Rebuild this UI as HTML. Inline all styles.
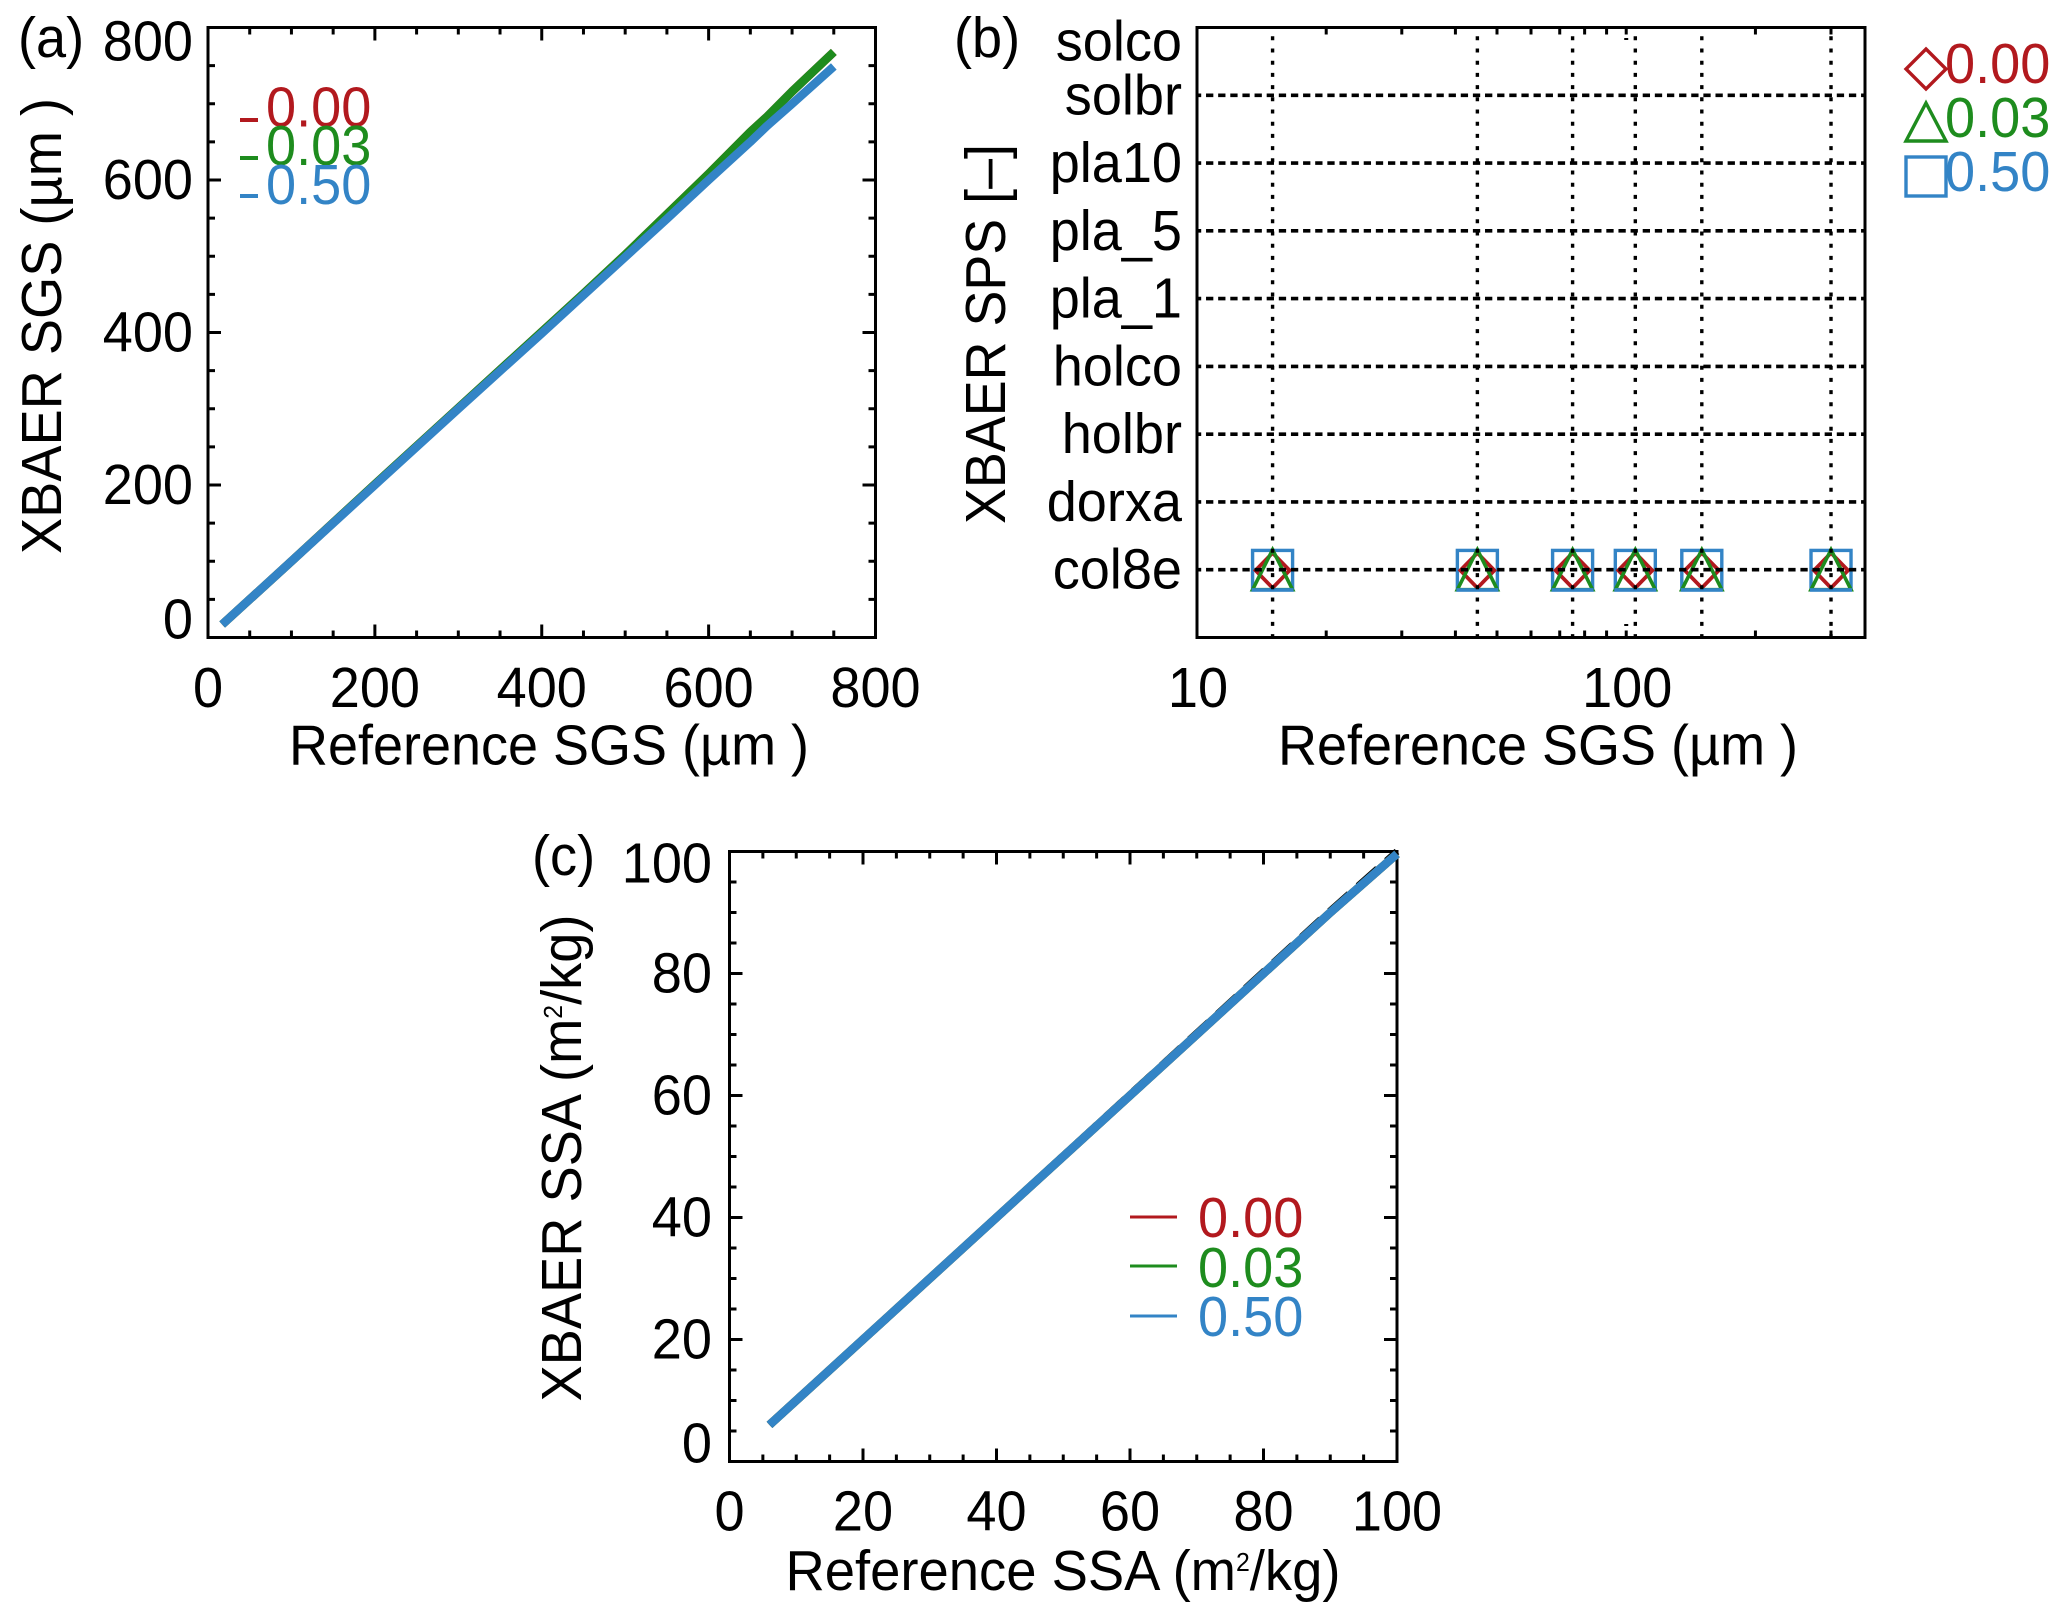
<!DOCTYPE html>
<html lang="en">
<head>
<meta charset="utf-8">
<title>XBAER retrieval comparison</title>
<style>
html,body{margin:0;padding:0;background:#fff;}
svg{display:block;}
text{font-family:"Liberation Sans",Arial,sans-serif;font-size:52px;fill:#000;}
</style>
</head>
<body>
<svg id="chart" xmlns="http://www.w3.org/2000/svg" width="2067" height="1621" viewBox="0 0 2067 1621">
  <rect x="0" y="0" width="2067" height="1621" fill="#fff"/>

  <g id="panel-a">
    <text x="18" y="57">(a)</text>
    <text x="549" y="764.5" text-anchor="middle" textLength="520" lengthAdjust="spacingAndGlyphs">Reference SGS (µm )</text>
    <text transform="translate(61,326) rotate(-90)" text-anchor="middle" textLength="456" lengthAdjust="spacingAndGlyphs">XBAER SGS (µm )</text>
    <g>
      <line x1="240" x2="258" y1="120" y2="120" stroke="#B2191E" stroke-width="4"/>
      <text x="266" y="126.5" style="fill:#B2191E">0.00</text>
      <line x1="240" x2="258" y1="158" y2="158" stroke="#1E8C1E" stroke-width="4"/>
      <text x="266" y="165" style="fill:#1E8C1E">0.03</text>
      <line x1="240" x2="258" y1="196" y2="196" stroke="#3384C6" stroke-width="4"/>
      <text x="266" y="204" style="fill:#3384C6">0.50</text>
    </g>
  </g>

  <g id="panel-b">
    <text x="954" y="57">(b)</text>
    <text x="1538" y="764.5" text-anchor="middle" textLength="520" lengthAdjust="spacingAndGlyphs">Reference SGS (µm )</text>
    <text transform="translate(1005,334) rotate(-90)" text-anchor="middle" textLength="380" lengthAdjust="spacingAndGlyphs">XBAER SPS [–]</text>
    <g>
      <path d="M1926 49 L1946 69 L1926 89 L1906 69 Z" fill="none" stroke="#B2191E" stroke-width="3.4"/>
      <text x="1945" y="83" style="fill:#B2191E">0.00</text>
      <path d="M1926 103 L1946 141 L1906 141 Z" fill="none" stroke="#1E8C1E" stroke-width="3.4"/>
      <text x="1945" y="137" style="fill:#1E8C1E">0.03</text>
      <rect x="1906" y="157" width="40" height="39" fill="none" stroke="#3384C6" stroke-width="3.4"/>
      <text x="1945" y="191" style="fill:#3384C6">0.50</text>
    </g>
  </g>

  <g id="panel-c">
    <text x="532" y="875">(c)</text>
    <text x="1063" y="1590" text-anchor="middle" textLength="555" lengthAdjust="spacingAndGlyphs">Reference SSA (m<tspan dy="-19" style="font-size:26px">2</tspan><tspan dy="19">/kg)</tspan></text>
    <text transform="translate(581,1158) rotate(-90)" text-anchor="middle" textLength="487" lengthAdjust="spacingAndGlyphs">XBAER SSA  (m<tspan dy="-19" style="font-size:26px">2</tspan><tspan dy="19">/kg)</tspan></text>
    <g>
      <line x1="1130" x2="1177" y1="1217" y2="1217" stroke="#B2191E" stroke-width="3"/>
      <text x="1198" y="1237" style="fill:#B2191E">0.00</text>
      <line x1="1130" x2="1177" y1="1266" y2="1266" stroke="#1E8C1E" stroke-width="3"/>
      <text x="1198" y="1287" style="fill:#1E8C1E">0.03</text>
      <line x1="1130" x2="1177" y1="1316" y2="1316" stroke="#3384C6" stroke-width="3"/>
      <text x="1198" y="1336" style="fill:#3384C6">0.50</text>
    </g>
  </g>
</svg>

<script>
// ---------- Panel (a) data ----------
const aTicks = [0, 200, 400, 600, 800];
const aMinorTicks = [50, 100, 150, 250, 300, 350, 450, 500, 550, 650, 700, 750];
const aRefX = [17, 100, 200, 300, 400, 450, 500, 550, 600, 650, 670, 700, 750];
const aSeries000 = [17, 100, 201, 301, 401, 451, 502, 555, 608, 663, 683, 716, 768];
const aSeries003 = [17, 100, 201, 301, 401, 451, 502, 555, 608, 663, 683, 716, 768];
const aSeries050 = [17, 100, 200, 300, 399, 449, 499, 549, 600, 650, 671, 700, 749];
const aBlackX = [17, 100, 200, 300, 400, 450];
const aBlackY = [17, 100, 199.4, 299.3, 398.8, 448.8];

// ---------- Panel (b) data ----------
const bMinorTicks = [20, 30, 40, 50, 60, 70, 80, 90, 100, 200, 300];
const bXLabels = [10, 100];
const bCategories = ["", "col8e", "dorxa", "holbr", "holco", "pla_1", "pla_5", "pla10", "solbr", "solco"];
const bRefSizes = [15, 45, 75, 105, 150, 300];
const bCat000 = ["col8e", "col8e", "col8e", "col8e", "col8e", "col8e"];
const bCat003 = ["col8e", "col8e", "col8e", "col8e", "col8e", "col8e"];
const bCat050 = ["col8e", "col8e", "col8e", "col8e", "col8e", "col8e"];

// ---------- Panel (c) data ----------
const cTicks = [0, 20, 40, 60, 80, 100];
const cMinorTicks = [5, 10, 15, 25, 30, 35, 45, 50, 55, 65, 70, 75, 85, 90, 95];
const cRefX = [6, 20, 40, 60, 70, 80, 90, 100];
const cSeries000 = [6, 20, 40, 60, 70, 80, 90, 99.6];
const cSeries003 = [6, 20, 40, 60, 70, 80, 90, 99.6];
const cSeries050 = [6, 20, 40, 60, 70, 80, 90, 99.6];
const cBlackY = [6, 20, 40.1, 60.2, 70.25, 80.3, 90.3, 100];

const RED = "#B2191E", GREEN = "#1E8C1E", BLUE = "#3384C6";
const NS = "http://www.w3.org/2000/svg";
const root = document.getElementById("chart");

function make(tag, parent, attrs) {
  const e = document.createElementNS(NS, tag);
  for (const k in attrs) e.setAttribute(k, attrs[k]);
  parent.appendChild(e);
  return e;
}
function clamp(v, a, b) { return Math.max(a, Math.min(b, v)); }

function linear(d0, d1, r0, r1) { return v => r0 + (v - d0) / (d1 - d0) * (r1 - r0); }
function logScale(d0, d1, r0, r1) { return v => r0 + (Math.log10(v) - Math.log10(d0)) / (Math.log10(d1) - Math.log10(d0)) * (r1 - r0); }

function drawFrame(parent, box, name) {
  const r = make("rect", parent, { x: box.l, y: box.t, width: box.r - box.l, height: box.b - box.t, fill: "none", stroke: "#000", "stroke-width": 3 });
  
  
}

function tickX(parent, box, x, len, name) {
  const a = make("line", parent, { x1: x, x2: x, y1: box.b, y2: box.b - len, stroke: "#000", "stroke-width": 3 });
  
  
  const b = make("line", parent, { x1: x, x2: x, y1: box.t, y2: box.t + len, stroke: "#000", "stroke-width": 3 });
  
  
}
function tickY(parent, box, y, len, name) {
  const a = make("line", parent, { x1: box.l, x2: box.l + len, y1: y, y2: y, stroke: "#000", "stroke-width": 3 });
  
  
  const b = make("line", parent, { x1: box.r, x2: box.r - len, y1: y, y2: y, stroke: "#000", "stroke-width": 3 });
  
  
}

function drawLinearAxes(parent, box, sx, sy, majors, minors, name, opts) {
  drawFrame(parent, box, name);
  minors.forEach(v => { tickX(parent, box, sx(v), 7, name); tickY(parent, box, sy(v), 7, name); });
  majors.forEach(v => {
    tickX(parent, box, sx(v), 13, name);
    tickY(parent, box, sy(v), 13, name);
    const tx = make("text", parent, { x: sx(v), y: opts.xBase, "text-anchor": "middle" });
    
    
    tx.textContent = v;
    const ty = make("text", parent, { x: opts.yRight, y: clamp(sy(v) + 19, box.t + opts.topPad, box.b + 1), "text-anchor": "end" });
    
    
    ty.textContent = v;
  });
}

function drawLine(parent, xs, ys, sx, sy, color, width, name, dash) {
  const pts = xs.map((x, i) => sx(x).toFixed(1) + "," + sy(ys[i]).toFixed(1)).join(" ");
  const p = make("polyline", parent, { points: pts, fill: "none", stroke: color, "stroke-width": width, "stroke-linejoin": "round" });
  if (dash) p.setAttribute("stroke-dasharray", dash);
  
  
}

// ---------- Panel (a) ----------
const pa = document.getElementById("panel-a");
const boxA = { l: 208, r: 875.5, t: 27.5, b: 637.5 };
const ax = linear(0, 800, boxA.l, boxA.r), ay = linear(0, 800, boxA.b, boxA.t);
drawLinearAxes(pa, boxA, ax, ay, aTicks, aMinorTicks, "panel-a", { xBase: 707, yRight: 193, topPad: 33 });
drawLine(pa, aBlackX, aBlackY, ax, ay, "#000", 7, "panel-a-reference-line");
drawLine(pa, aRefX, aSeries000, ax, ay, RED, 8.5, "panel-a-line-0-00");
drawLine(pa, aRefX, aSeries003, ax, ay, GREEN, 8.5, "panel-a-line-0-03");
drawLine(pa, aRefX, aSeries050, ax, ay, BLUE, 8.5, "panel-a-line-0-50");

// ---------- Panel (b) ----------
const pb = document.getElementById("panel-b");
const boxB = { l: 1197, r: 1865, t: 27.5, b: 637.5 };
const bx = logScale(10, 360, boxB.l, boxB.r);
const by = name => boxB.b - bCategories.indexOf(name) * (boxB.b - boxB.t) / (bCategories.length - 1);

// markers sit below the grid, as in the reference
bRefSizes.forEach((v, i) => {
  const x = bx(v);
  const s = make("rect", pb, { x: x - 20, y: by(bCat050[i]) - 19.3, width: 40, height: 39.5, fill: "none", stroke: BLUE, "stroke-width": 3.4 });
  
  
  const yD = by(bCat000[i]) + 0.7;
  const d = make("path", pb, { d: `M${x} ${yD - 17.5} L${x + 17} ${yD} L${x} ${yD + 17.5} L${x - 17} ${yD} Z`, fill: "none", stroke: RED, "stroke-width": 3.8 });
  
  
  const yT = by(bCat003[i]);
  const g = make("path", pb, { d: `M${x} ${yT - 20} L${x + 20} ${yT + 20} L${x - 20} ${yT + 20} Z`, fill: "none", stroke: GREEN, "stroke-width": 3.6 });
  
  
  const s2 = make("path", pb, { d: `M${x - 21} ${yT + 20.2} H${x + 21}`, fill: "none", stroke: BLUE, "stroke-width": 3.6 });
  
  
});

bCategories.forEach(c => {
  if (!c) return;
  const y = by(c);
  if (c !== "solco") {
    const g = make("line", pb, { x1: boxB.l, x2: boxB.r, y1: y, y2: y, stroke: "#000", "stroke-width": 3.6, "stroke-dasharray": "7.3 4.83", "stroke-dashoffset": 3.1 });
    
    
  }
  const t = make("text", pb, { x: 1182, y: Math.max(y + 19, 60.5), "text-anchor": "end" });
  
  
  t.textContent = c;
});
bRefSizes.forEach(v => {
  const g = make("line", pb, { x1: bx(v), x2: bx(v), y1: boxB.t, y2: boxB.b, stroke: "#000", "stroke-width": 3.4, "stroke-dasharray": "4 8.2", "stroke-dashoffset": 3.4 });
  
  
});
drawFrame(pb, boxB, "panel-b");
bMinorTicks.forEach(v => tickX(pb, boxB, bx(v), 7, "panel-b"));
[39, 625].forEach(y => {
  const d = make("line", pb, { x1: bx(100) - 2, x2: bx(100) + 2, y1: y, y2: y, stroke: "#000", "stroke-width": 2 });
  
  
});
bXLabels.forEach(v => {
  const t = make("text", pb, { x: bx(v) + 1, y: 707, "text-anchor": "middle" });
  
  
  t.textContent = v;
});

// ---------- Panel (c) ----------
const pc = document.getElementById("panel-c");
const boxC = { l: 729.5, r: 1397, t: 851.5, b: 1461.5 };
const cx = linear(0, 100, boxC.l, boxC.r), cy = linear(0, 100, boxC.b, boxC.t);
drawLinearAxes(pc, boxC, cx, cy, cTicks, cMinorTicks, "panel-c", { xBase: 1530.5, yRight: 712, topPad: 31 });
drawLine(pc, cRefX, cBlackY, cx, cy, "#000", 7, "panel-c-reference-line", "26 12");
drawLine(pc, cRefX, cSeries000, cx, cy, RED, 8.5, "panel-c-line-0-00");
drawLine(pc, cRefX, cSeries003, cx, cy, GREEN, 8.5, "panel-c-line-0-03");
drawLine(pc, cRefX, cSeries050, cx, cy, BLUE, 8.5, "panel-c-line-0-50");

// ---------- Text fitting: the reference glyphs are tall and slightly condensed ----------
const TALL_SIZE = 57, WIDTH_FACTOR = 1.04;
root.querySelectorAll("text").forEach(t => {
  if (t.hasAttribute("textLength")) {
    t.style.fontSize = TALL_SIZE + "px";
    return;
  }
  const natural = t.getComputedTextLength();
  t.style.fontSize = TALL_SIZE + "px";
  t.setAttribute("textLength", (natural * WIDTH_FACTOR).toFixed(1));
  t.setAttribute("lengthAdjust", "spacingAndGlyphs");
});
</script>
</body>
</html>
